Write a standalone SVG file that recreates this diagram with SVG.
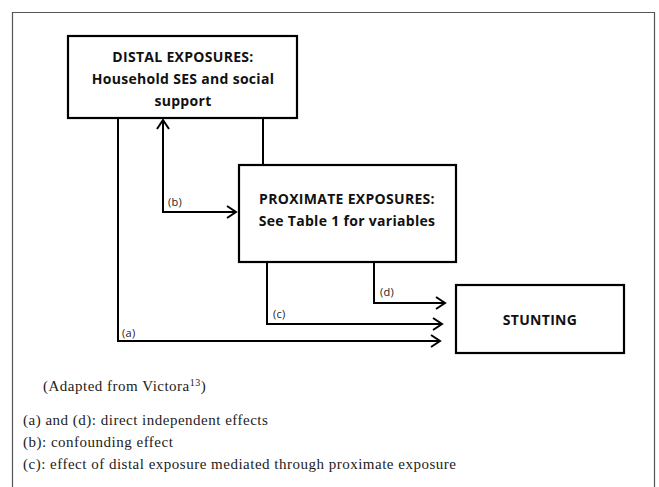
<svg xmlns="http://www.w3.org/2000/svg" width="659" height="487" viewBox="0 0 659 487">
  <style>
    .box { fill: #fff; stroke: #000; stroke-width: 2.2; }
    .wire { fill: none; stroke: #000; stroke-width: 2; }
    .head { fill: none; stroke: #000; stroke-width: 2; stroke-linejoin: miter; }
    .title { font-family: "Open Sans", "Liberation Sans", sans-serif; font-weight: bold; font-size: 14px; letter-spacing: 0.3px; fill: #111; text-anchor: middle; }
    .tag { font-family: "Open Sans", "Liberation Sans", sans-serif; font-size: 11px; letter-spacing: 0.3px; fill: #222; }
    .note { font-family: "Liberation Serif", "DejaVu Serif", serif; font-size: 15px; letter-spacing: 0.5px; fill: #222; }
  </style>

  <rect x="0" y="0" width="659" height="487" fill="#fff"/>
  <!-- frame -->
  <path d="M12.5 487 V12.5 H654.5 V487" fill="none" stroke="#555" stroke-width="1.2"/>

  <g id="connectors">
    <!-- distal -> proximate (plain joint) -->
    <path class="wire" d="M263 118 V165"/>
    <!-- (b) confounding, double-headed -->
    <path class="wire" d="M163 120 V212 H236"/>
    <path class="head" d="M157 129 L163 120 L169 129"/>
    <path class="head" d="M227 206 L236 212 L227 218"/>
    <!-- (a) distal -> stunting -->
    <path class="wire" d="M118 118 V341 H440"/>
    <path class="head" d="M431 335 L440 341 L431 347"/>
    <!-- (c) mediated -->
    <path class="wire" d="M267 262 V324 H442"/>
    <path class="head" d="M433 318 L442 324 L433 330"/>
    <!-- (d) proximate -> stunting -->
    <path class="wire" d="M374 262 V303 H445"/>
    <path class="head" d="M436 297 L445 303 L436 309"/>
    <text class="tag" x="168" y="206">(b)</text>
    <text class="tag" x="122" y="337">(a)</text>
    <text class="tag" x="273" y="318">(c)</text>
    <text class="tag" x="380" y="296">(d)</text>
  </g>

  <g id="distal">
    <rect class="box" x="68" y="36" width="229" height="82"/>
    <text class="title" x="183" y="62">DISTAL EXPOSURES:</text>
    <text class="title" x="183" y="84">Household SES and social</text>
    <text class="title" x="183" y="106">support</text>
  </g>

  <g id="proximate">
    <rect class="box" x="239" y="165" width="217" height="97"/>
    <text class="title" x="347" y="204">PROXIMATE EXPOSURES:</text>
    <text class="title" x="347" y="226">See Table 1 for variables</text>
  </g>

  <g id="stunting">
    <rect class="box" x="456" y="285" width="168" height="68"/>
    <text class="title" x="540" y="325">STUNTING</text>
  </g>

  <g id="notes">
    <text class="note" x="43" y="391">(Adapted from Victora<tspan font-size="10" dy="-5">13</tspan><tspan dy="5">)</tspan></text>
    <text class="note" x="23" y="425">(a) and (d): direct independent effects</text>
    <text class="note" x="23" y="447">(b): confounding effect</text>
    <text class="note" x="23" y="469">(c): effect of distal exposure mediated through proximate exposure</text>
  </g>
</svg>
